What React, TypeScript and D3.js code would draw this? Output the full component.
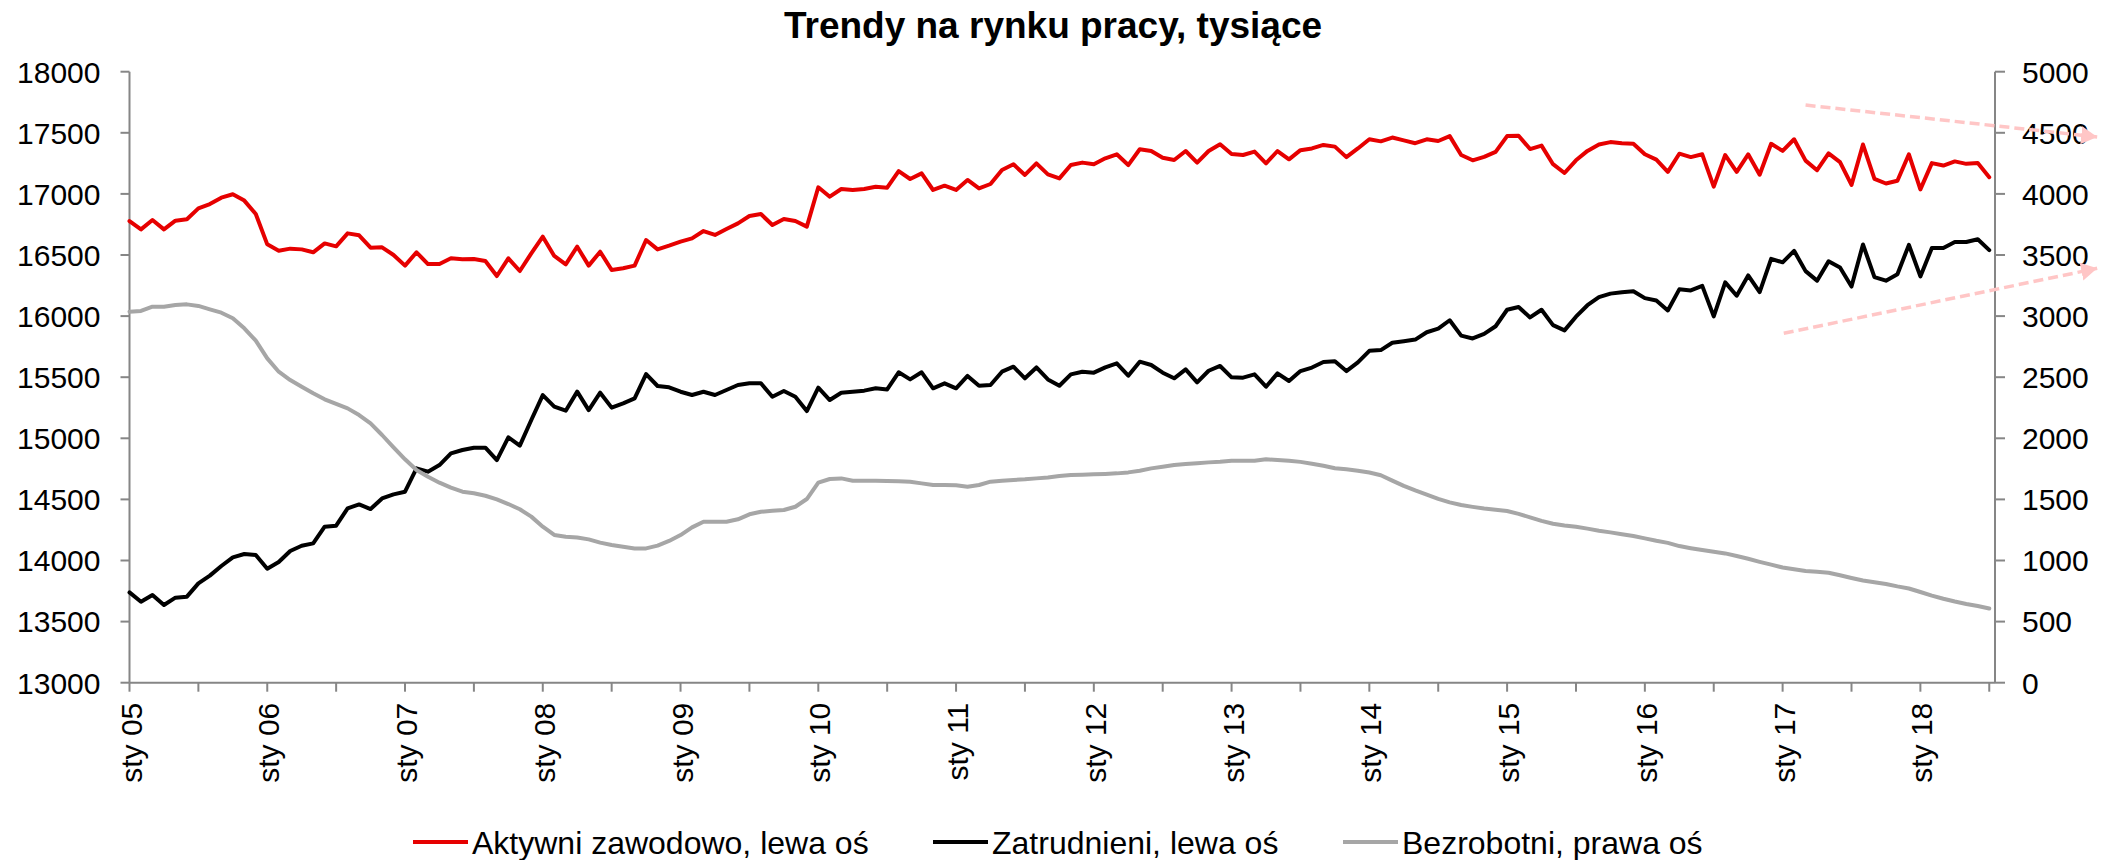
import React from 'react';
import * as d3 from 'd3';

// ---------- data ----------
const chartTitle = 'Trendy na rynku pracy, tysiące';
const seriesNames = ['Aktywni zawodowo, lewa oś', 'Zatrudnieni, lewa oś', 'Bezrobotni, prawa oś'];

// monthly values, Jan 2005 .. Jul 2018 (thousands)
const aktywni = [
  16778, 16710, 16786, 16710, 16781, 16792, 16882, 16917, 16969, 16997, 16945, 16836,
  16587, 16535, 16552, 16546, 16522, 16595, 16571, 16677, 16661, 16560, 16563, 16500,
  16413, 16522, 16426, 16426, 16473, 16465, 16467, 16451, 16328, 16473, 16369, 16514,
  16650, 16492, 16424, 16568, 16413, 16527, 16377, 16391, 16413, 16623, 16546, 16576,
  16609, 16636, 16696, 16664, 16713, 16759, 16819, 16835, 16745, 16795, 16778, 16732,
  17054, 16977, 17040, 17032, 17040, 17059, 17051, 17187, 17122, 17168, 17032, 17067,
  17032, 17114, 17045, 17081, 17196, 17242, 17155, 17250, 17160, 17127, 17236, 17256,
  17242, 17291, 17324, 17236, 17365, 17351, 17296, 17277, 17351, 17256, 17351, 17406,
  17326, 17318, 17346, 17250, 17351, 17283, 17358, 17372, 17401, 17387, 17301, 17372,
  17447, 17430, 17461, 17438, 17415, 17447, 17433, 17473, 17318, 17275, 17303, 17344,
  17473, 17476, 17367, 17395, 17243, 17171, 17275, 17352, 17404, 17424, 17415, 17410,
  17324, 17280, 17180, 17329, 17301, 17324, 17060, 17318, 17180, 17324, 17157, 17410,
  17352, 17447, 17272, 17194, 17332, 17260, 17074, 17404, 17123, 17085, 17108, 17324,
  17037, 17252, 17232, 17266, 17246, 17252, 17137,
];

const zatrudnieni = [
  13739, 13663, 13718, 13636, 13696, 13704, 13813, 13876, 13955, 14026, 14053, 14045,
  13933, 13988, 14078, 14121, 14140, 14277, 14285, 14427, 14459, 14421, 14508, 14541,
  14563, 14754, 14727, 14781, 14877, 14904, 14923, 14923, 14822, 15008, 14940, 15150,
  15354, 15259, 15226, 15382, 15231, 15373, 15251, 15286, 15327, 15526, 15428, 15417,
  15381, 15354, 15381, 15354, 15395, 15436, 15450, 15450, 15340, 15387, 15340, 15223,
  15414, 15313, 15373, 15381, 15390, 15409, 15400, 15540, 15482, 15540, 15409, 15450,
  15409, 15510, 15430, 15436, 15545, 15586, 15491, 15580, 15482, 15430, 15523, 15545,
  15537, 15580, 15613, 15512, 15627, 15600, 15537, 15491, 15564, 15458, 15553, 15592,
  15499, 15496, 15523, 15422, 15531, 15469, 15550, 15579, 15624, 15630, 15550, 15622,
  15716, 15722, 15782, 15794, 15808, 15868, 15897, 15966, 15840, 15817, 15854, 15917,
  16052, 16075, 15989, 16052, 15926, 15883, 15995, 16089, 16155, 16184, 16196, 16204,
  16147, 16127, 16046, 16219, 16210, 16247, 15998, 16276, 16167, 16333, 16196, 16468,
  16440, 16534, 16368, 16290, 16448, 16397, 16242, 16586, 16319, 16290, 16342, 16583,
  16325, 16557, 16557, 16606, 16606, 16629, 16540,
];

const bezrobotni = [
  3036, 3042, 3077, 3077, 3091, 3096, 3083, 3055, 3028, 2982, 2900, 2799,
  2654, 2545, 2477, 2422, 2368, 2319, 2281, 2245, 2190, 2122, 2027, 1926,
  1828, 1740, 1686, 1637, 1596, 1563, 1550, 1530, 1500, 1462, 1419, 1359,
  1277, 1209, 1195, 1189, 1173, 1146, 1127, 1113, 1099, 1099, 1122, 1160,
  1208, 1271, 1317, 1317, 1317, 1337, 1378, 1399, 1407, 1413, 1440, 1503,
  1637, 1667, 1672, 1653, 1653, 1653, 1650, 1648, 1645, 1631, 1618, 1618,
  1615, 1604, 1618, 1645, 1653, 1659, 1664, 1672, 1680, 1691, 1699, 1702,
  1705, 1708, 1713, 1721, 1735, 1754, 1767, 1781, 1789, 1795, 1803, 1808,
  1817, 1817, 1817, 1828, 1822, 1817, 1807, 1792, 1775, 1755, 1746, 1735,
  1720, 1698, 1654, 1611, 1574, 1540, 1505, 1476, 1454, 1439, 1425, 1416,
  1405, 1382, 1353, 1324, 1301, 1287, 1276, 1261, 1244, 1230, 1215, 1201,
  1181, 1161, 1144, 1118, 1101, 1086, 1072, 1058, 1037, 1014, 989, 966,
  943, 928, 914, 908, 900, 879, 857, 836, 822, 808, 788, 771,
  742, 713, 687, 664, 644, 627, 607,
];

const xTickLabels = [
  'sty 05', 'sty 06', 'sty 07', 'sty 08', 'sty 09', 'sty 10', 'sty 11',
  'sty 12', 'sty 13', 'sty 14', 'sty 15', 'sty 16', 'sty 17', 'sty 18',
];
const leftTicks = [13000, 13500, 14000, 14500, 15000, 15500, 16000, 16500, 17000, 17500, 18000];
const rightTicks = [0, 500, 1000, 1500, 2000, 2500, 3000, 3500, 4000, 4500, 5000];

// trend arrows in data units: [month index, left-axis value]
const trendArrows = [
  { from: [146.0, 17727], to: [171.4, 17466] },
  { from: [144.1, 15859], to: [171.4, 16391] },
];

// ---------- layout ----------
const W = 2110;
const H = 860;
const plot = { left: 129.5, right: 1995, top: 71.7, bottom: 682.7 };
const FONT = '"Liberation Sans", Arial, Helvetica, sans-serif';
const COLORS = ['#E60000', '#000000', '#A6A6A6'];
const AXIS = '#868686';
const ARROW = '#FFC6C6';

export default function App() {
  const x = d3.scaleLinear().domain([0, 162.5]).range([plot.left, plot.right]);
  const yL = d3.scaleLinear().domain([13000, 18000]).range([plot.bottom, plot.top]);
  const yR = d3.scaleLinear().domain([0, 5000]).range([plot.bottom, plot.top]);

  const lineL = d3.line<number>().x((_, i) => x(i)).y((d) => yL(d));
  const lineR = d3.line<number>().x((_, i) => x(i)).y((d) => yR(d));

  const halfYearTicks = d3.range(0, aktywni.length, 6);

  const legendX = [413, 933, 1343];
  const legendY = 842;

  return (
    <svg
      width={W}
      height={H}
      viewBox={`0 0 ${W} ${H}`}
      style={{ position: 'absolute', left: 0, top: 0, display: 'block', background: '#fff' }}
      fontFamily={FONT}
    >
      <defs>
        <marker
          id="arrowHead"
          markerUnits="userSpaceOnUse"
          markerWidth={18}
          markerHeight={20}
          refX={16}
          refY={9}
          orient="auto"
        >
          <path d="M0,0 L16,9 L0,18 Z" fill={ARROW} />
        </marker>
      </defs>
      <rect x={0} y={0} width={W} height={H} fill="#fff" />

      {/* title */}
      <text x={1053} y={38} textAnchor="middle" fontSize={37} fontWeight="bold" fill="#000">
        {chartTitle}
      </text>

      {/* left axis */}
      <line x1={plot.left} x2={plot.left} y1={plot.top} y2={plot.bottom} stroke={AXIS} strokeWidth={2} />
      {leftTicks.map((t) => (
        <g key={'l' + t}>
          <line x1={plot.left - 9} x2={plot.left} y1={yL(t)} y2={yL(t)} stroke={AXIS} strokeWidth={2} />
          <text x={plot.left - 29} y={yL(t)} dy="0.36em" textAnchor="end" fontSize={30} fill="#000">
            {t}
          </text>
        </g>
      ))}

      {/* right axis */}
      <line x1={plot.right} x2={plot.right} y1={plot.top} y2={plot.bottom} stroke={AXIS} strokeWidth={2} />
      {rightTicks.map((t) => (
        <g key={'r' + t}>
          <line x1={plot.right} x2={plot.right + 10} y1={yR(t)} y2={yR(t)} stroke={AXIS} strokeWidth={2} />
          <text x={plot.right + 27} y={yR(t)} dy="0.36em" textAnchor="start" fontSize={30} fill="#000">
            {t}
          </text>
        </g>
      ))}

      {/* x axis */}
      <line x1={plot.left} x2={plot.right} y1={plot.bottom} y2={plot.bottom} stroke={AXIS} strokeWidth={2} />
      {halfYearTicks.map((m) => (
        <line key={'xt' + m} x1={x(m)} x2={x(m)} y1={plot.bottom} y2={plot.bottom + 9} stroke={AXIS} strokeWidth={2} />
      ))}
      {xTickLabels.map((lab, i) => (
        <text
          key={lab}
          transform={`translate(${x(i * 12)},${plot.bottom + 20}) rotate(-90)`}
          dy="0.4em"
          textAnchor="end"
          fontSize={30}
          fill="#000"
        >
          {lab}
        </text>
      ))}

      {/* series */}
      <path d={lineL(aktywni) || ''} fill="none" stroke={COLORS[0]} strokeWidth={4} strokeLinejoin="round" strokeLinecap="round" />
      <path d={lineL(zatrudnieni) || ''} fill="none" stroke={COLORS[1]} strokeWidth={4} strokeLinejoin="round" strokeLinecap="round" />
      <path d={lineR(bezrobotni) || ''} fill="none" stroke={COLORS[2]} strokeWidth={4} strokeLinejoin="round" strokeLinecap="round" />

      {/* trend arrows */}
      {trendArrows.map((a, i) => (
        <line
          key={'arr' + i}
          x1={x(a.from[0])}
          y1={yL(a.from[1])}
          x2={x(a.to[0])}
          y2={yL(a.to[1])}
          stroke={ARROW}
          strokeWidth={3.5}
          strokeDasharray="10 5"
          markerEnd="url(#arrowHead)"
        />
      ))}

      {/* legend */}
      {seriesNames.map((name, i) => (
        <g key={name}>
          <line x1={legendX[i]} x2={legendX[i] + 55} y1={legendY} y2={legendY} stroke={COLORS[i]} strokeWidth={4} />
          <text x={legendX[i] + 59} y={854} fontSize={32} fill="#000">
            {name}
          </text>
        </g>
      ))}
    </svg>
  );
}
